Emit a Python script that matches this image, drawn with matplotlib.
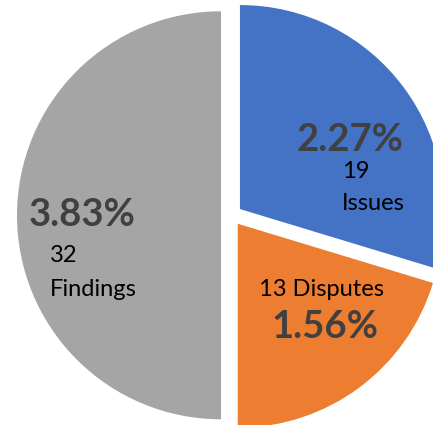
import matplotlib
matplotlib.use("Agg")
import matplotlib.pyplot as plt

categories = ["Issues", "Disputes", "Findings"]
counts = [19, 13, 32]
pct_labels = ["2.27%", "1.56%", "3.83%"]
colors = ["#4472C4", "#ED7D31", "#A5A5A5"]

W, H = 433, 425
fig = plt.figure(figsize=(W / 100, H / 100), dpi=100)
ax = fig.add_axes([0, 0, 1, 1])

R = 204.0  # pixel radius
cx, cy = 231.5, 215.3  # pixel center (y from top)
ex = 10.5 / R

wedges, _ = ax.pie(counts, colors=colors, startangle=90, counterclock=False,
                   explode=[ex] * len(counts), radius=1.0,
                   wedgeprops=dict(linewidth=0))
ax.set_aspect("auto")
ax.set_xlim(-cx / R, (W - cx) / R)
ax.set_ylim(-(H - cy) / R, cy / R)
ax.axis("off")

font = "Lato"
def T(x, y, s, **kw):
    ax.text(x / W, 1 - y / H, s, transform=ax.transAxes, family=font, **kw)

pct_kw = dict(fontsize=27.5, fontweight="bold", color="#404040", ha="center", va="center")
lab_kw = dict(fontsize=17, color="black", ha="left", va="center")

# Issues
T(350, 140, pct_labels[0], **pct_kw)
T(342, 171, str(counts[0]), **lab_kw)
T(342, 204, categories[0], **lab_kw)
# Disputes
T(321.5, 289, f"{counts[1]} {categories[1]}", **dict(lab_kw, ha="center"))
T(325, 327.5, pct_labels[1], **pct_kw)
# Findings
T(82.5, 215.5, pct_labels[2], **pct_kw)
T(50, 256, str(counts[2]), **lab_kw)
T(50, 289, categories[2], **lab_kw)

fig.savefig("out.png", dpi=100)
